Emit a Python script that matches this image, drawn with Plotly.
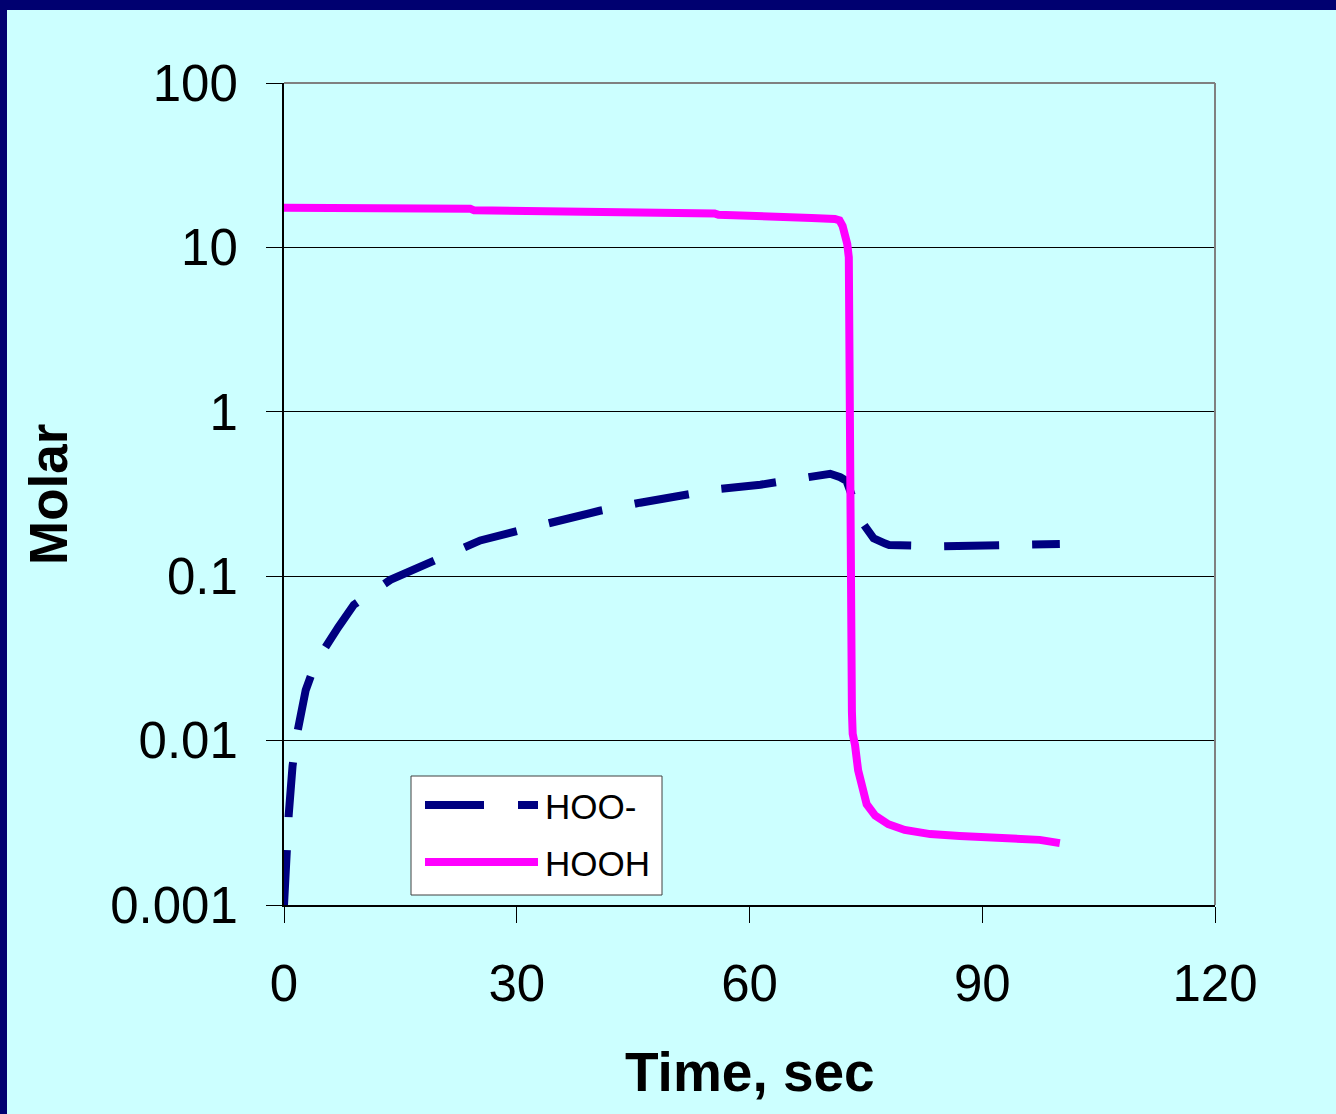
import plotly.graph_objects as go

# ---------------- data ----------------
hooh_t = [0, 5, 10, 15, 20, 24, 24.5, 30, 35, 40, 43.3, 43.8, 50, 55.5, 56, 60, 63.5, 64,
          68, 71.0, 71.6, 72.0, 72.3, 72.6, 72.8, 72.9, 73.0, 73.1, 73.2, 73.3, 73.6, 74.0,
          74.5, 75.1, 76.2, 77.9, 80.0, 83.3, 87.1, 92.3, 97.4, 100]
hooh_y = [17.4, 17.4, 17.3, 17.3, 17.2, 17.2, 16.8, 16.7, 16.7, 16.6, 16.6, 16.3, 16.2, 16.1, 15.8, 15.7, 15.6, 15.2,
          15.1, 14.9, 14.6, 13.5, 12.0, 10.5, 8.7, 0.5, 0.03, 0.028, 0.015, 0.011, 0.0094, 0.0066,
          0.0050, 0.0041, 0.0035, 0.0031, 0.00286, 0.0027, 0.00263, 0.00256, 0.00249, 0.00238]

hoo_t = [0, 0.1, 0.3, 0.6, 1.1, 1.7, 2.8, 4.1, 7.0, 9.0, 13.7, 16.2, 21.4, 25.3, 30.4, 35.6,
         40.7, 45.9, 51.0, 56.2, 61.4, 66.5, 70.4, 71.7, 72.5, 73.3, 73.8, 74.3, 76.0, 77.5,
         78.0, 85.0, 90.0, 95.0, 100]
hoo_y = [0.001, 0.0014, 0.0025, 0.0035, 0.007, 0.0111, 0.0203, 0.030, 0.049, 0.067, 0.095, 0.107,
         0.14, 0.165, 0.19, 0.22, 0.25, 0.28, 0.31, 0.34, 0.36, 0.39, 0.42, 0.40, 0.38, 0.30,
         0.24, 0.22, 0.17, 0.158, 0.155, 0.152, 0.153, 0.157, 0.157]

x_ticks = [0, 30, 60, 90, 120]
y_ticks = [0.001, 0.01, 0.1, 1, 10, 100]
y_ticktext = ["0.001", "0.01", "0.1", "1", "10", "100"]

# ---------------- style / layout ----------------
W, H = 1336, 1114
L, R, T, B = 284, 1215, 83, 905
FONT = "Arial, Liberation Sans, sans-serif"
NAVY = "#000070"
CYAN = "#CCFFFF"
HOO_COLOR = "#000080"
HOOH_COLOR = "#FF00FF"


def px(xp):
    return (xp - L) / (R - L)


def py(yp):
    return (B - yp) / (B - T)


fig = go.Figure()
fig.add_trace(go.Scatter(x=hoo_t, y=hoo_y, mode="lines", name="HOO-",
                         line=dict(color=HOO_COLOR, width=8, dash="55px,33px"),
                         showlegend=False))
fig.add_trace(go.Scatter(x=hooh_t, y=hooh_y, mode="lines", name="HOOH",
                         line=dict(color=HOOH_COLOR, width=8),
                         showlegend=False))

shapes = [
    # navy frame (top and left)
    dict(type="rect", xref="paper", yref="paper", x0=px(0), x1=px(W), y0=py(10), y1=py(0),
         fillcolor=NAVY, line=dict(width=0), layer="below"),
    dict(type="rect", xref="paper", yref="paper", x0=px(0), x1=px(7), y0=py(H), y1=py(0),
         fillcolor=NAVY, line=dict(width=0), layer="below"),
    # gray plot border (top/right)
    dict(type="line", xref="paper", yref="paper", x0=0, x1=1, y0=1, y1=1,
         line=dict(color="#808080", width=2), layer="above"),
    dict(type="line", xref="paper", yref="paper", x0=1, x1=1, y0=0, y1=1,
         line=dict(color="#808080", width=2), layer="above"),
    # legend box
    dict(type="rect", xref="paper", yref="paper", x0=px(411), x1=px(662), y0=py(895), y1=py(776),
         fillcolor="white", line=dict(color="#404040", width=1), layer="above"),
    dict(type="line", xref="paper", yref="paper", x0=px(425), x1=px(538), y0=py(805), y1=py(805),
         line=dict(color=HOO_COLOR, width=8, dash="59px,34px"), layer="above"),
    dict(type="line", xref="paper", yref="paper", x0=px(425), x1=px(538), y0=py(862), y1=py(862),
         line=dict(color=HOOH_COLOR, width=8), layer="above"),
]

annotations = [
    dict(text="HOO-", xref="paper", yref="paper", x=px(543), y=py(806), xanchor="left",
         yanchor="middle", showarrow=False, font=dict(family=FONT, size=35, color="black")),
    dict(text="HOOH", xref="paper", yref="paper", x=px(543), y=py(863), xanchor="left",
         yanchor="middle", showarrow=False, font=dict(family=FONT, size=35, color="black")),
    dict(text="<b>Time, sec</b>", xref="paper", yref="paper", x=px(750), y=py(1072),
         xanchor="center", yanchor="middle", showarrow=False,
         font=dict(family=FONT, size=55, color="black")),
    dict(text="<b>Molar</b>", xref="paper", yref="paper", x=px(48), y=py(495),
         xanchor="center", yanchor="middle", showarrow=False, textangle=-90,
         font=dict(family=FONT, size=53, color="black")),
]

fig.update_layout(
    width=W, height=H,
    margin=dict(l=L, r=W - R, t=T, b=H - B, pad=0),
    paper_bgcolor=CYAN,
    plot_bgcolor=CYAN,
    showlegend=False,
    shapes=shapes,
    annotations=annotations,
    xaxis=dict(range=[0, 120], tickvals=x_ticks, ticks="outside", ticklen=16, tickwidth=1,
               tickcolor="black", showgrid=False, zeroline=False, showline=True,
               linecolor="black", linewidth=2, ticklabelstandoff=17,
               tickfont=dict(family=FONT, size=51, color="black")),
    yaxis=dict(type="log", range=[-3, 2], tickvals=y_ticks, ticktext=y_ticktext,
               ticks="outside", ticklen=16, tickwidth=1, tickcolor="black",
               showgrid=True, gridcolor="black", gridwidth=1, zeroline=False,
               showline=True, linecolor="black", linewidth=2, ticklabelstandoff=18,
               tickfont=dict(family=FONT, size=51, color="black")),
)

fig.write_html(
    "out.html",
    config={"displayModeBar": False},
    post_script="document.body.style.margin='0';document.body.style.padding='0';"
                "document.body.style.overflow='hidden';",
)
